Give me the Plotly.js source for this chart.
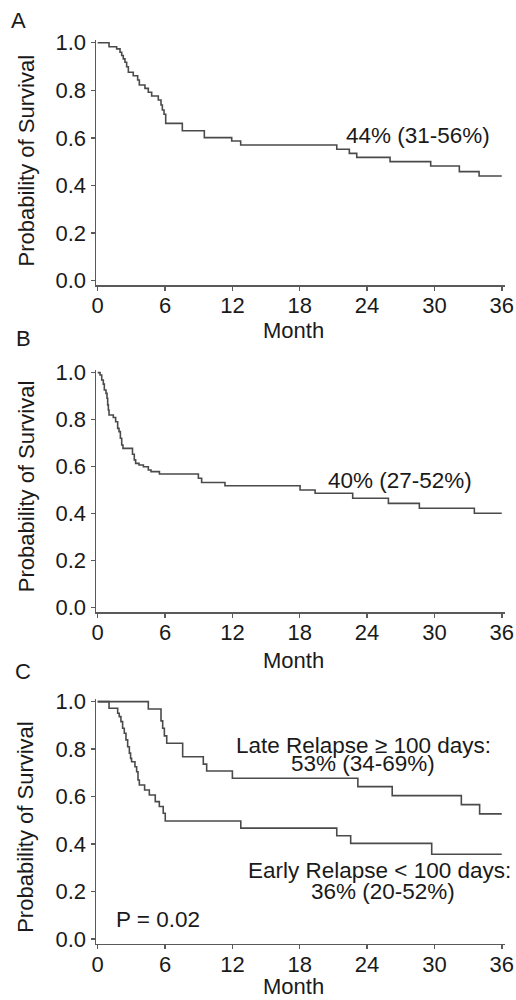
<!DOCTYPE html>
<html>
<head>
<meta charset="utf-8">
<script src="https://cdn.plot.ly/plotly-3.0.1.min.js"></script>
<style>html,body{margin:0;padding:0;background:#fff;}#chart{width:516px;height:1000px;}</style>
</head>
<body>
<div id="chart"></div>
<script>
// ---- Data ----
const monthTicks = [0, 6, 12, 18, 24, 30, 36];
const monthTickLabels = ['0', '6', '12', '18', '24', '30', '36'];
const survTicks = [0, 0.2, 0.4, 0.6, 0.8, 1.0];
const survTickLabels = ['0.0', '0.2', '0.4', '0.6', '0.8', '1.0'];

// Panel A: overall survival
const A_month = [0, 1.01, 1.69, 1.99, 2.14, 2.28, 2.43, 2.58, 2.73, 3.17, 3.56, 3.71, 4.21, 4.51, 4.81, 5.40, 5.64, 5.76, 5.91, 6.06, 7.54, 9.50, 11.94, 12.74, 21.30, 22.42, 23.08, 26.05, 29.67, 32.22, 33.98, 36];
const A_surv  = [1.0, 0.983, 0.974, 0.960, 0.946, 0.932, 0.918, 0.899, 0.876, 0.861, 0.843, 0.822, 0.808, 0.792, 0.776, 0.759, 0.738, 0.717, 0.699, 0.661, 0.630, 0.601, 0.587, 0.570, 0.552, 0.535, 0.518, 0.500, 0.482, 0.458, 0.440, 0.440];
const A_label = '44% (31-56%)';

// Panel B
const B_month = [0, 0.21, 0.36, 0.50, 0.59, 0.74, 0.83, 0.89, 0.95, 1.01, 1.39, 1.60, 1.78, 1.90, 2.02, 2.14, 2.25, 3.10, 3.26, 3.38, 3.68, 4.07, 4.51, 4.75, 5.50, 8.97, 9.26, 11.34, 18.03, 19.37, 22.72, 25.90, 28.66, 33.56, 36];
const B_surv  = [1.0, 0.990, 0.969, 0.951, 0.926, 0.912, 0.891, 0.863, 0.841, 0.820, 0.809, 0.791, 0.763, 0.749, 0.721, 0.692, 0.678, 0.653, 0.629, 0.614, 0.607, 0.600, 0.586, 0.579, 0.569, 0.551, 0.533, 0.519, 0.501, 0.487, 0.466, 0.444, 0.423, 0.402, 0.402];
const B_label = '40% (27-52%)';

// Panel C: late vs early relapse
const C_late_month = [0, 4.51, 5.64, 5.79, 5.94, 6.15, 7.57, 9.41, 9.71, 12.00, 23.18, 26.24, 32.40, 34.03, 36];
const C_late_surv  = [1.0, 0.969, 0.919, 0.888, 0.856, 0.825, 0.768, 0.737, 0.708, 0.677, 0.642, 0.604, 0.566, 0.527, 0.527];
const C_early_month = [0, 1.01, 1.78, 1.92, 2.07, 2.22, 2.37, 2.52, 2.67, 2.82, 2.93, 3.02, 3.32, 3.47, 3.59, 3.71, 4.18, 4.60, 5.13, 5.49, 5.84, 6.02, 12.75, 21.30, 22.54, 29.76, 36];
const C_early_surv  = [1.0, 0.972, 0.951, 0.937, 0.916, 0.888, 0.867, 0.839, 0.810, 0.783, 0.761, 0.747, 0.726, 0.705, 0.670, 0.649, 0.628, 0.607, 0.579, 0.558, 0.530, 0.497, 0.467, 0.435, 0.403, 0.357, 0.357];
const C_late_label = ['Late Relapse \u2265 100 days:', '53% (34-69%)'];
const C_early_label = ['Early Relapse < 100 days:', '36% (20-52%)'];
const C_pvalue = 'P = 0.02';

const panelLetters = ['A', 'B', 'C'];
const xTitle = 'Month';
const yTitle = 'Probability of Survival';

// ---- Styling ----
const FONT = 'Liberation Sans, Arial, Helvetica, sans-serif';
const TXT = '#1a1a1a';
const LINE = '#4a4a4a';
const AX = '#5a5a5a';

function stepTrace(x, y, xa, ya) {
  return {x: x, y: y, xaxis: xa, yaxis: ya, type: 'scatter', mode: 'lines',
    line: {shape: 'hv', color: LINE, width: 1.6}, hoverinfo: 'skip', showlegend: false};
}

const traces = [
  stepTrace(A_month, A_surv, 'x', 'y'),
  stepTrace(B_month, B_surv, 'x2', 'y2'),
  stepTrace(C_late_month, C_late_surv, 'x3', 'y3'),
  stepTrace(C_early_month, C_early_surv, 'x3', 'y3')
];

function xAxis(anchor) {
  return {domain: [0, 1], anchor: anchor, range: [-0.151, 36.29], tickmode: 'array',
    tickvals: monthTicks, ticktext: monthTickLabels, ticks: 'outside', ticklen: 4,
    tickwidth: 1.5, tickcolor: AX, showline: true, linecolor: AX, linewidth: 1.5,
    showgrid: false, zeroline: false, tickfont: {family: FONT, size: 22, color: TXT},
    ticklabelstandoff: -4, fixedrange: true};
}
function yAxis(anchor, dom) {
  return {domain: dom, anchor: anchor, range: [-0.0195, 1.01], tickmode: 'array',
    tickvals: survTicks, ticktext: survTickLabels, ticks: 'outside', ticklen: 4,
    tickwidth: 1.5, tickcolor: AX, showline: true, linecolor: AX, linewidth: 1.5,
    showgrid: false, zeroline: false, tickfont: {family: FONT, size: 22, color: TXT},
    fixedrange: true};
}

// pixel -> paper helpers (plot area: x 96..505, y 0..1000)
const L = 96, W = 409, H = 1000;
const px = v => (v - L) / W;
const py = v => 1 - v / H;

function ann(text, x, y, opts) {
  return Object.assign({text: text, xref: 'paper', yref: 'paper', x: px(x), y: py(y),
    xanchor: 'center', yanchor: 'middle', showarrow: false,
    font: {family: FONT, size: 22.5, color: TXT}}, opts || {});
}

const annotations = [
  ann(panelLetters[0], 18, 20.8, {font: {family: FONT, size: 22, color: TXT}}),
  ann(panelLetters[1], 23, 338.7, {font: {family: FONT, size: 22, color: TXT}}),
  ann(panelLetters[2], 23.3, 671.5, {font: {family: FONT, size: 22, color: TXT}}),
  ann(yTitle, 25.5, 161, {textangle: -90, font: {family: FONT, size: 22, color: TXT}}),
  ann(yTitle, 26.5, 486.7, {textangle: -90, font: {family: FONT, size: 22, color: TXT}}),
  ann(yTitle, 25.5, 827.3, {textangle: -90, font: {family: FONT, size: 22, color: TXT}}),
  ann(xTitle, 293, 330, {font: {family: FONT, size: 22, color: TXT}}),
  ann(xTitle, 293, 660, {font: {family: FONT, size: 22, color: TXT}}),
  ann(xTitle, 293, 986.5, {font: {family: FONT, size: 22, color: TXT}}),
  ann(A_label, 418.3, 135.8),
  ann(B_label, 400, 480.2),
  ann(C_late_label[0], 363.3, 745),
  ann(C_late_label[1], 363, 763),
  ann(C_early_label[0], 379.2, 870),
  ann(C_early_label[1], 382.5, 891),
  ann(C_pvalue, 157.5, 919.2)
];

const layout = {
  width: 516, height: 1000,
  margin: {l: L, r: 516 - L - W, t: 0, b: 0, pad: 0},
  paper_bgcolor: '#fff', plot_bgcolor: '#fff',
  showlegend: false,
  xaxis: xAxis('y'), yaxis: yAxis('x', [0.7147, 0.9597]),
  xaxis2: xAxis('y2'), yaxis2: yAxis('x2', [0.3877, 0.6297]),
  xaxis3: xAxis('y3'), yaxis3: yAxis('x3', [0.0564, 0.3007]),
  annotations: annotations
};

Plotly.newPlot('chart', traces, layout, {displayModeBar: false, staticPlot: true});
</script>
</body>
</html>
